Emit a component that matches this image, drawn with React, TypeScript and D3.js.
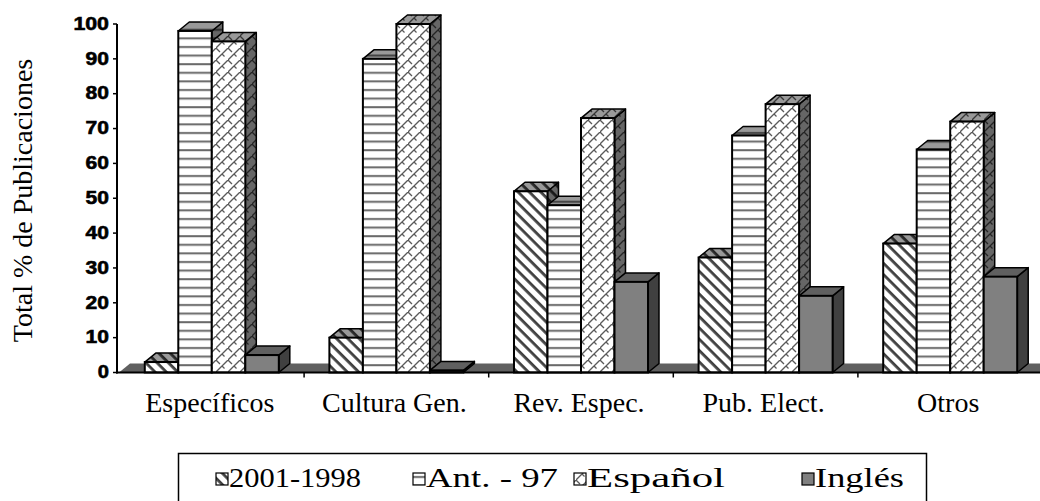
import React from 'react';
import * as d3 from 'd3';

const categories = ['Específicos', 'Cultura Gen.', 'Rev. Espec.', 'Pub. Elect.', 'Otros'];
const seriesNames = ['2001-1998', 'Ant. - 97', 'Español', 'Inglés'];
const values2001 = [3, 10, 52, 33, 37];
const valuesAnt = [98, 90, 48, 68, 64];
const valuesEsp = [95, 100, 73, 77, 72];
const valuesIng = [5, 0.6, 26, 22, 27.5];
const yTickValues = [0, 10, 20, 30, 40, 50, 60, 70, 80, 90, 100];
const yTitle = 'Total % de Publicaciones';

// layout constants (not data)
const W = 1040;
const H = 501;
const DX = 11;
const DY = -9;
const legendItemX = [216, 413, 574, 802];
const legendTextLen = [132, 132, 138, 89];

const frontFills = ['url(#p2001)', 'url(#pAnt)', 'url(#pEsp)', '#808080'];

export default function App() {
  const x = d3.scaleBand<string>().domain(categories).range([119.5, 1042.5]);
  const groupW = x.bandwidth() * 0.726;
  const xs = d3.scaleBand<string>().domain(seriesNames).range([0, groupW]);
  const y = d3.scaleLinear().domain([0, 100]).range([372.5, 24]);
  const seriesValues = [values2001, valuesAnt, valuesEsp, valuesIng];
  const y0 = y(0);

  const bars: React.ReactNode[] = [];
  categories.forEach((cat, ci) => {
    seriesNames.forEach((name, si) => {
      const v = seriesValues[si][ci];
      const bx = (x(cat) as number) + (x.bandwidth() - groupW) / 2 + (xs(name) as number);
      const w = xs.bandwidth();
      const top = y(v);
      const side = `${bx + w},${top} ${bx + w + DX},${top + DY} ${bx + w + DX},${y0 + DY} ${bx + w},${y0}`;
      const topFace = `${bx},${top} ${bx + DX},${top + DY} ${bx + w + DX},${top + DY} ${bx + w},${top}`;
      const solid = si === 3;
      bars.push(
        <g key={`${ci}-${si}`}>
          <polygon points={side} fill={solid ? '#404040' : frontFills[si]} />
          {!solid && <polygon points={side} fill="#000" fillOpacity={0.6} />}
          <polygon points={side} fill="none" stroke="#000" strokeWidth={1.5} strokeLinejoin="round" />
          <polygon points={topFace} fill={solid ? '#606060' : frontFills[si]} />
          {!solid && <polygon points={topFace} fill="#000" fillOpacity={0.4} />}
          <polygon points={topFace} fill="none" stroke="#000" strokeWidth={1.5} strokeLinejoin="round" />
          <rect x={bx} y={top} width={w} height={y0 - top} fill={frontFills[si]} stroke="#000" strokeWidth={2} />
        </g>
      );
    });
  });

  const xTickPositions = categories.slice(1).map((c) => x(c) as number);

  return (
    <svg width={W} height={H} style={{ position: 'absolute', left: 0, top: 0, background: '#fff' }}>
      <defs>
        <pattern id="p2001" patternUnits="userSpaceOnUse" width={8} height={8} patternTransform="rotate(45)">
          <rect x={0} y={0} width={8} height={8} fill="#fff" />
          <rect x={0} y={0} width={8} height={2.8} fill="#404040" />
        </pattern>
        <pattern id="pAnt" patternUnits="userSpaceOnUse" width={10} height={8.6}>
          <rect x={0} y={0} width={10} height={8.6} fill="#fff" />
          <rect x={0} y={3} width={10} height={2} fill="#6a6a6a" />
        </pattern>
        <pattern id="pEsp" patternUnits="userSpaceOnUse" width={12} height={12}>
          <rect x={0} y={0} width={12} height={12} fill="#fff" />
          <path d="M0,12 L12,0" stroke="#5a5a5a" strokeWidth={1.3} />
          <path d="M0,0 L4,4" stroke="#5a5a5a" strokeWidth={1.3} />
          <path d="M6,6 L8.5,8.5" stroke="#5a5a5a" strokeWidth={1.3} />
        </pattern>
      </defs>

      {/* floor */}
      <polygon
        points={`119,${y0} ${119 + DX},${y0 + DY} ${W + 20},${y0 + DY} ${W + 20},${y0}`}
        fill="#606060"
      />

      {bars}

      {/* y axis */}
      <line x1={117} x2={117} y1={y(100)} y2={y0 + 1} stroke="#000" strokeWidth={2} />
      {yTickValues.map((t) => (
        <g key={t}>
          <line x1={113} x2={117} y1={y(t)} y2={y(t)} stroke="#000" strokeWidth={1.5} />
          <text
            x={109}
            y={y(t) + 1}
            textAnchor="end"
            dominantBaseline="middle"
            fontFamily="'Liberation Sans', Arial, sans-serif"
            fontWeight="bold"
            fontSize={18}
            textLength={String(t).length * 12.2 - 1}
            lengthAdjust="spacingAndGlyphs"
            fill="#000"
            stroke="#000"
            strokeWidth={0.6}
          >
            {t}
          </text>
        </g>
      ))}

      {/* x axis */}
      <line x1={116} x2={W} y1={y0} y2={y0} stroke="#000" strokeWidth={2} />
      {xTickPositions.map((p, i) => (
        <line key={i} x1={p} x2={p} y1={y0} y2={y0 + 5} stroke="#000" strokeWidth={1.5} />
      ))}
      {categories.map((c) => (
        <text
          key={c}
          x={(x(c) as number) + x.bandwidth() / 2 - 2}
          y={412}
          textAnchor="middle"
          fontFamily="'Liberation Serif', 'Times New Roman', serif"
          fontSize={28}
          fill="#000"
        >
          {c}
        </text>
      ))}

      {/* y title */}
      <text
        transform="translate(32,200.5) rotate(-90)"
        textAnchor="middle"
        fontFamily="'Liberation Serif', 'Times New Roman', serif"
        fontSize={28}
        fill="#000"
      >
        {yTitle}
      </text>

      {/* legend */}
      <rect x={178.5} y={453.5} width={748} height={60} fill="#fff" stroke="#000" strokeWidth={1.5} />
      {seriesNames.map((name, i) => (
        <g key={name}>
          <rect x={legendItemX[i]} y={473} width={12} height={12} fill={frontFills[i]} stroke="#000" strokeWidth={1.2} />
          <text
            x={legendItemX[i] + 13}
            y={487}
            fontFamily="'Liberation Serif', 'Times New Roman', serif"
            fontSize={28}
            textLength={legendTextLen[i]}
            lengthAdjust="spacingAndGlyphs"
            fill="#000"
          >
            {name}
          </text>
        </g>
      ))}
    </svg>
  );
}
